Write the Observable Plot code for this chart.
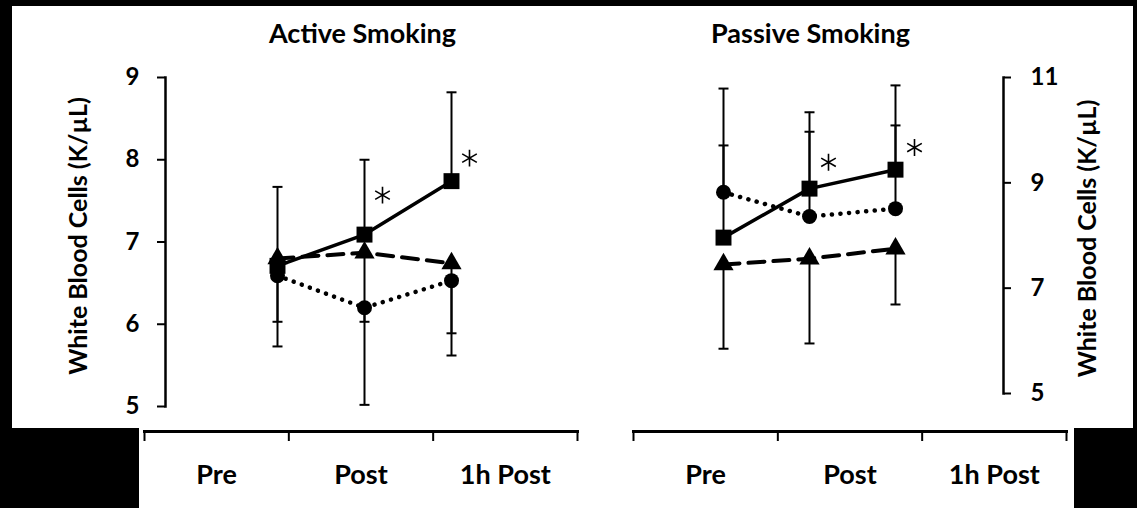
<!DOCTYPE html>
<html>
<head>
<meta charset="utf-8">
<script src="https://cdn.jsdelivr.net/npm/d3@7"></script>
<script src="https://cdn.jsdelivr.net/npm/@observablehq/plot@0.6"></script>
<style>
  html, body { margin: 0; padding: 0; background: #000; }
  #root { position: relative; width: 1137px; height: 508px; background: #000; overflow: hidden; }
  .bg { position: absolute; background: #fff; }
  .p { position: absolute; }
</style>
</head>
<body>
<div id="root">
  <div class="bg" style="left:12px;top:6px;width:1121px;height:422px"></div>
  <div class="bg" style="left:139px;top:428px;width:935px;height:80px"></div>
  <div class="p" id="topLeft" style="left:12px;top:6px"></div>
  <div class="p" id="topRight" style="left:600px;top:6px"></div>
  <div class="p" id="botLeft" style="left:130px;top:420px"></div>
  <div class="p" id="botRight" style="left:619px;top:420px"></div>
</div>
<script>
// ---------- data ----------
const times = ["Pre", "Post", "1h Post"];
const panelTitles = ["Active Smoking", "Passive Smoking"];
const yLabel = "White Blood Cells (K/µL)";

// Active smoking (left axis)
const activeTicks = [5, 6, 7, 8, 9];
const activeSquare = [6.71, 7.09, 7.74];
const activeSquareBar = [7.67, 8.00, 8.82];
const activeTriangle = [6.80, 6.87, 6.74];
const activeTriangleBar = [6.03, 6.03, 5.89];
const activeCircle = [6.59, 6.20, 6.53];
const activeCircleBar = [5.73, 5.02, 5.62];
const activeStarTimes = ["Post", "1h Post"];
const activeStar = [7.57, 8.02];

// Passive smoking (right axis)
const passiveTicks = [5, 7, 9, 11];
const passiveSquare = [7.96, 8.89, 9.25];
const passiveSquareBar = [9.71, 9.97, 10.09];
const passiveCircle = [8.82, 8.36, 8.51];
const passiveCircleBar = [10.79, 10.34, 10.85];
const passiveTriangle = [7.45, 7.56, 7.75];
const passiveTriangleBar = [5.85, 5.95, 6.69];
const passiveStarTimes = ["Post", "1h Post"];
const passiveStar = [9.39, 9.67];

// ---------- helpers ----------
const rows = (values, ends) => times.map((t, i) => ({time: t, value: values[i], end: ends[i]}));
const capSymbol = {
  draw(ctx, size) {
    const w = Math.sqrt(size / Math.PI);
    ctx.moveTo(-w, 0);
    ctx.lineTo(w, 0);
  }
};
const FONT = "Lato, 'Open Sans', sans-serif";

function seriesMarks(sq, tr, ci) {
  const all = [...sq, ...tr, ...ci];
  return [
    Plot.line(sq, {x: "time", y: "value", stroke: "black", strokeWidth: 3.5}),
    Plot.line(tr, {x: "time", y: "value", stroke: "black", strokeWidth: 4, strokeDasharray: "16,9"}),
    Plot.line(ci, {x: "time", y: "value", stroke: "black", strokeWidth: 4.5, strokeDasharray: "0.1,8.5", strokeLinecap: "round"}),
    Plot.ruleX(all, {x: "time", y1: "value", y2: "end", stroke: "black", strokeWidth: 2}),
    Plot.dot(all, {x: "time", y: "end", symbol: capSymbol, r: 5, stroke: "black", fill: "none", strokeWidth: 2}),
    Plot.dot(ci, {x: "time", y: "value", symbol: "circle", r: 7.5, fill: "black"}),
    Plot.dot(tr, {x: "time", y: "value", symbol: "triangle", r: 7.5, fill: "black"}),
    Plot.dot(sq, {x: "time", y: "value", symbol: "square", r: 9, fill: "black"})
  ];
}

// ---------- top left: Active Smoking ----------
{
  const sq = rows(activeSquare, activeSquareBar);
  const tr = rows(activeTriangle, activeTriangleBar);
  const ci = rows(activeCircle, activeCircleBar);
  const stars = activeStarTimes.map((t, i) => ({time: t, value: activeStar[i]}));
  const chart = Plot.plot({
    width: 588, height: 422,
    marginLeft: 153, marginRight: 41, marginTop: 71, marginBottom: 22,
    style: {background: "transparent", fontFamily: FONT, fontWeight: "bold", fontSize: "22px", color: "black"},
    x: {type: "point", domain: times, range: [220, 483], axis: null},
    y: {domain: [5, 9], axis: null},
    marks: [
      Plot.frame({anchor: "left", stroke: "black", strokeWidth: 2.5}),
      Plot.axisY(activeTicks, {anchor: "left", tickSize: 8, tickPadding: 18, tickFormat: d => String(d), fontSize: 24, strokeWidth: 2, label: null}),
      Plot.text([yLabel], {frameAnchor: "left", textAnchor: "middle", rotate: -90, dx: -87, dy: -6, fontSize: 25, fontWeight: "bold"}),
      Plot.text([panelTitles[0]], {frameAnchor: "top", lineAnchor: "bottom", dy: -35, fontSize: 27, fontWeight: "bold"}),
      ...seriesMarks(sq, tr, ci),
      Plot.dot(stars, {x: "time", y: "value", symbol: "asterisk", r: 8, dx: 18, stroke: "black", strokeWidth: 1.6})
    ]
  });
  document.getElementById("topLeft").append(chart);
}

// ---------- top right: Passive Smoking ----------
{
  const sq = rows(passiveSquare, passiveSquareBar);
  const tr = rows(passiveTriangle, passiveTriangleBar);
  const ci = rows(passiveCircle, passiveCircleBar);
  const stars = passiveStarTimes.map((t, i) => ({time: t, value: passiveStar[i]}));
  const chart = Plot.plot({
    width: 533, height: 422,
    marginLeft: 17, marginRight: 130, marginTop: 71, marginBottom: 35,
    style: {background: "transparent", fontFamily: FONT, fontWeight: "bold", fontSize: "22px", color: "black"},
    x: {type: "point", domain: times, range: [79, 339], axis: null},
    y: {domain: [5, 11], axis: null},
    marks: [
      Plot.frame({anchor: "right", stroke: "black", strokeWidth: 2.5}),
      Plot.axisY(passiveTicks, {anchor: "right", tickSize: 7, tickPadding: 20, tickFormat: d => String(d), fontSize: 24, strokeWidth: 2, label: null}),
      Plot.text([yLabel], {frameAnchor: "right", textAnchor: "middle", rotate: -90, dx: 84, dy: 3, fontSize: 25, fontWeight: "bold"}),
      Plot.text([panelTitles[1]], {frameAnchor: "top", lineAnchor: "bottom", dy: -35, fontSize: 27, fontWeight: "bold"}),
      ...seriesMarks(sq, tr, ci),
      Plot.dot(stars, {x: "time", y: "value", symbol: "asterisk", r: 8, dx: 19, stroke: "black", strokeWidth: 1.6})
    ]
  });
  document.getElementById("topRight").append(chart);
}

// ---------- bottom category axes ----------
function categoryAxis() {
  const bounds = d3.range(times.length + 1);
  return Plot.plot({
    width: 460, height: 88,
    marginLeft: 14, marginRight: 13, marginTop: 11, marginBottom: 67,
    style: {background: "transparent", fontFamily: FONT, fontWeight: "bold", fontSize: "27px", color: "black"},
    x: {type: "linear", domain: [0, times.length], axis: null},
    y: {axis: null},
    marks: [
      Plot.frame({anchor: "top", stroke: "black", strokeWidth: 3}),
      Plot.tickX(bounds, {x: d => d, stroke: "black", strokeWidth: 2}),
      Plot.text(times, {x: (d, i) => i + 0.5, frameAnchor: "bottom", lineAnchor: "bottom", dy: 42, fontSize: 27, fontWeight: "bold"})
    ]
  });
}
document.getElementById("botLeft").append(categoryAxis());
document.getElementById("botRight").append(categoryAxis());
</script>
</body>
</html>
